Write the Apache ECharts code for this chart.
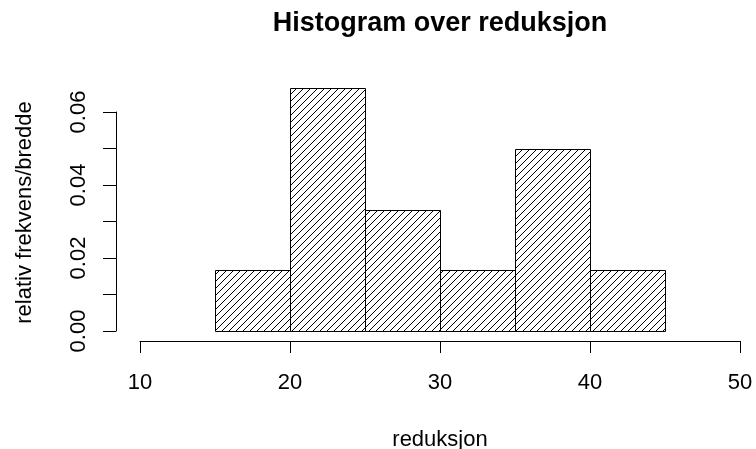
<!DOCTYPE html>
<html>
<head>
<meta charset="utf-8">
<script src="https://cdn.jsdelivr.net/npm/echarts@6/dist/echarts.min.js"></script>
<style>html,body{margin:0;padding:0;background:#fff}#c{width:756px;height:449px}</style>
</head>
<body>
<div id="c"></div>
<script>
// Histogram data
const breaks = [15, 20, 25, 30, 35, 40, 45];
const counts = [1, 4, 2, 1, 3, 1];
const densities = [0.016667, 0.066667, 0.033333, 0.016667, 0.05, 0.016667];
const xTicks = [10, 20, 30, 40, 50];
const yTicks = [0, 0.01, 0.02, 0.03, 0.04, 0.05, 0.06];

const FONT = 'Liberation Sans, Arial, Helvetica, sans-serif';

// hatch pattern
const S = 7;
const pc = document.createElement('canvas');
pc.width = S; pc.height = S;
const g = pc.getContext('2d');
g.fillStyle = '#fff'; g.fillRect(0, 0, S, S);
g.strokeStyle = '#000'; g.lineWidth = 1;
g.beginPath();
g.moveTo(-1, S + 1); g.lineTo(S + 1, -1);
g.moveTo(-1, 1); g.lineTo(1, -1);
g.moveTo(S - 1, S + 1); g.lineTo(S + 1, S - 1);
g.stroke();

const xlo = xTicks[0], xhi = xTicks[xTicks.length - 1];
const xr = xhi - xlo;
const ymax = Math.max(...densities);

const data = densities.map((d, i) => [breaks[i], breaks[i + 1], d]);

const chart = echarts.init(document.getElementById('c'), null, {renderer: 'canvas'});
chart.setOption({
  animation: false,
  backgroundColor: '#fff',
  title: {
    text: 'Histogram over reduksjon',
    left: 435, top: 5, textAlign: 'center',
    textStyle: {fontFamily: FONT, fontSize: 27, fontWeight: 'bold', color: '#000'}
  },
  grid: [
    {left: 116, top: 78, width: 624, height: 263, outerBoundsMode: 'none', containLabel: false},
    {left: 140, top: 78, width: 600, height: 263, outerBoundsMode: 'none', containLabel: false},
    {left: 116, top: 112, width: 624, height: 219, outerBoundsMode: 'none', containLabel: false}
  ],
  xAxis: [
    {gridIndex: 0, type: 'value', min: xlo - 0.04 * xr, max: xhi,
     axisLine: {show: false}, axisTick: {show: false}, axisLabel: {show: false}, splitLine: {show: false},
     name: 'reduksjon', nameLocation: 'middle', nameGap: 88,
     nameTextStyle: {fontFamily: FONT, fontSize: 22, color: '#000', padding: [0, 0, 0, 24]}},
    {gridIndex: 1, type: 'value', min: xlo, max: xhi, interval: 10, position: 'bottom',
     axisLine: {show: true, lineStyle: {color: '#000', width: 1}},
     axisTick: {show: true, length: 12, lineStyle: {color: '#000', width: 1}},
     axisLabel: {show: true, margin: 31, fontFamily: FONT, fontSize: 22, color: '#000'},
     splitLine: {show: false}},
    {gridIndex: 2, type: 'value', show: false, min: 0, max: 1}
  ],
  yAxis: [
    {gridIndex: 0, type: 'value', min: -0.04 * ymax, max: ymax * 1.04,
     axisLine: {show: false}, axisTick: {show: false}, axisLabel: {show: false}, splitLine: {show: false},
     name: 'relativ frekvens/bredde', nameLocation: 'middle', nameRotate: 90, nameGap: 80,
     nameTextStyle: {fontFamily: FONT, fontSize: 22, color: '#000', padding: [0, 6, 0, 0]}},
    {gridIndex: 1, type: 'value', show: false, min: 0, max: 1},
    {gridIndex: 2, type: 'value', min: yTicks[0], max: yTicks[yTicks.length - 1], interval: 0.01, position: 'left',
     axisLine: {show: true, lineStyle: {color: '#000', width: 1}},
     axisTick: {show: true, length: 13, lineStyle: {color: '#000', width: 1}},
     axisLabel: {show: true, rotate: 90, margin: 26, interval: 1, fontFamily: FONT, fontSize: 22, color: '#000',
       formatter: v => (Math.round(v * 100) % 2 === 0 ? v.toFixed(2) : '')},
     splitLine: {show: false}}
  ],
  series: [{
    type: 'custom',
    xAxisIndex: 0, yAxisIndex: 0,
    data: data,
    clip: false,
    renderItem: function (params, api) {
      const p0 = api.coord([api.value(0), api.value(2)]);
      const p1 = api.coord([api.value(1), 0]);
      return {
        type: 'rect',
        shape: {x: Math.round(p0[0]) + 0.5, y: Math.round(p0[1]) + 0.5,
                width: Math.round(p1[0]) - Math.round(p0[0]), height: Math.round(p1[1]) - Math.round(p0[1])},
        style: {fill: {image: pc, repeat: 'repeat'}, stroke: '#000', lineWidth: 1}
      };
    }
  }]
});
</script>
</body>
</html>
